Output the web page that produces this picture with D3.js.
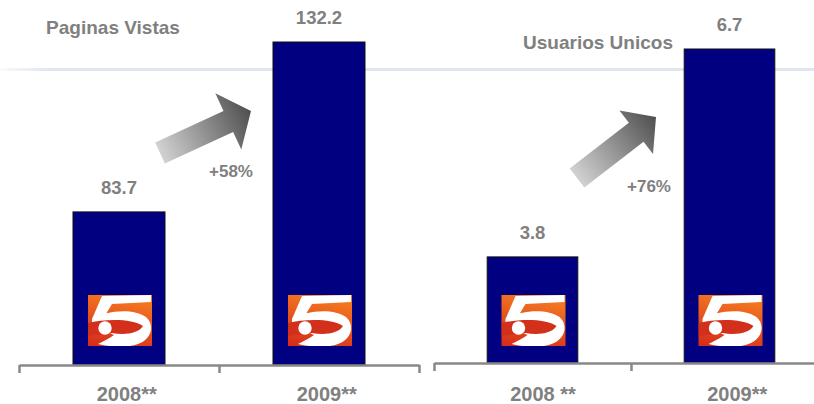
<!DOCTYPE html>
<html>
<head>
<meta charset="utf-8">
<script src="https://cdn.jsdelivr.net/npm/d3@7"></script>
<style>
	body { margin: 0; background: #fff; }
	text { font-family: "Liberation Sans", Arial, sans-serif; font-weight: bold; fill: #808080; }
</style>
</head>
<body>
<div id="container"></div>
<script>
const years = ["2008", "2009"];
const yearSuffixes = [["**", "**"], [" **", "**"]];
const panelTitles = ["Paginas Vistas", "Usuarios Unicos"];
const pageViews = [83.7, 132.2];
const uniqueUsers = [3.8, 6.7];
const growthLabels = ["+58%", "+76%"];

const width = 814;
const height = 404;

const svg = d3
	.select("#container")
	.append("svg")
	.attr("width", width)
	.attr("height", height);

const defs = svg.append("defs");

// faint blue rule behind the bars
const ruleGrad = defs.append("linearGradient").attr("id", "ruleGrad");
ruleGrad.append("stop").attr("offset", "0").attr("stop-color", "#dfe6f0").attr("stop-opacity", 0.2);
ruleGrad.append("stop").attr("offset", "0.06").attr("stop-color", "#dfe6f0").attr("stop-opacity", 1);
ruleGrad.append("stop").attr("offset", "1").attr("stop-color", "#dfe6f0").attr("stop-opacity", 1);
svg.append("rect")
	.attr("x", 0)
	.attr("y", 68)
	.attr("width", width)
	.attr("height", 3)
	.attr("fill", "url(#ruleGrad)");

const logoGrad = defs.append("linearGradient").attr("id", "logoGrad")
	.attr("x1", 0.3).attr("y1", 0).attr("x2", 0).attr("y2", 1);
logoGrad.append("stop").attr("offset", "0").attr("stop-color", "#f37520");
logoGrad.append("stop").attr("offset", "1").attr("stop-color", "#d52a1b");

defs.append("clipPath").attr("id", "logoClip")
	.append("rect").attr("width", 64).attr("height", 51);

const panels = [
	{
		values: pageViews,
		x0: 19, x1: 419, axisY: 365, yMin: 40, top: 42,
		title: panelTitles[0], titleX: 113, titleY: 34,
		arrow: { tail: [160, 153], tip: [251, 111], sw: 23, hw: 62, hl: 25 },
		growth: growthLabels[0], growthX: 231, growthY: 177,
		suffixes: yearSuffixes[0],
	},
	{
		values: uniqueUsers,
		x0: 434, x1: 828, axisY: 363, yMin: 2.32, top: 49,
		title: panelTitles[1], titleX: 598, titleY: 49,
		arrow: { tail: [577, 178], tip: [656, 117], sw: 24, hw: 55, hl: 25 },
		growth: growthLabels[1], growthX: 649, growthY: 192,
		suffixes: yearSuffixes[1],
	},
];

panels.forEach((p, pi) => drawPanel(p, pi));

function drawPanel(p, pi) {
	const g = svg.append("g");

	const x = d3.scaleBand()
		.domain(years)
		.range([p.x0, p.x1])
		.paddingInner(0.54)
		.paddingOuter(0.27);

	const y = d3.scaleLinear()
		.domain([p.yMin, d3.max(p.values)])
		.range([p.axisY, p.top]);

	drawArrow(g, p.arrow, pi);

	g.append("g")
		.selectAll("rect")
		.data(p.values)
		.join("rect")
		.attr("x", (d, i) => x(years[i]))
		.attr("y", (d) => y(d))
		.attr("width", x.bandwidth())
		.attr("height", (d) => p.axisY - y(d))
		.attr("fill", "#000080")
		.attr("stroke", "#111")
		.attr("stroke-width", 1);

	years.forEach((yr) => {
		drawLogo(g, x(yr) + x.bandwidth() / 2 - 31, 295, 64, 51);
	});

	// value labels
	g.append("g")
		.selectAll("text")
		.data(p.values)
		.join("text")
		.attr("x", (d, i) => x(years[i]) + x.bandwidth() / 2)
		.attr("y", (d) => y(d) - 18)
		.attr("text-anchor", "middle")
		.style("font-size", "18.5px")
		.text((d) => d.toFixed(1));

	g.append("text")
		.attr("x", p.titleX)
		.attr("y", p.titleY)
		.attr("text-anchor", "middle")
		.style("font-size", "19px")
		.text(p.title);

	g.append("text")
		.attr("x", p.growthX)
		.attr("y", p.growthY)
		.attr("text-anchor", "middle")
		.style("font-size", "17px")
		.text(p.growth);

	// axis with ticks at band boundaries
	const edge = d3.scaleLinear().domain([0, years.length]).range([p.x0, p.x1]);
	const axis = d3.axisBottom(edge)
		.tickValues(d3.range(years.length + 1))
		.tickFormat("")
		.tickSizeInner(8)
		.tickSizeOuter(0);
	const ax = g.append("g")
		.attr("transform", `translate(0, ${p.axisY})`)
		.call(axis);
	ax.select(".domain").attr("stroke", "#888").attr("stroke-width", 2.5);
	ax.selectAll(".tick line").attr("stroke", "#888").attr("stroke-width", 2.5);

	// category labels: year centred on the bar, stars appended
	years.forEach((yr, i) => {
		const cx = x(yr) + x.bandwidth() / 2;
		const t = g.append("text")
			.attr("x", cx)
			.attr("y", 401)
			.attr("text-anchor", "middle")
			.style("font-size", "20px")
			.text(yr);
		const w = t.node().getComputedTextLength();
		g.append("text")
			.attr("x", cx + w / 2)
			.attr("y", 401)
			.attr("xml:space", "preserve")
			.style("white-space", "pre")
			.style("font-size", "20px")
			.text(p.suffixes[i]);
	});
}

function drawArrow(g, a, idx) {
	const dx = a.tip[0] - a.tail[0];
	const dy = a.tip[1] - a.tail[1];
	const len = Math.hypot(dx, dy);
	const ang = (Math.atan2(dy, dx) * 180) / Math.PI;

	const gradId = "arrowGrad" + idx;
	const grad = defs.append("linearGradient")
		.attr("id", gradId)
		.attr("gradientUnits", "userSpaceOnUse")
		.attr("x1", 0).attr("y1", 0).attr("x2", len).attr("y2", 0);
	grad.append("stop").attr("offset", "0").attr("stop-color", "#d2d2d2");
	grad.append("stop").attr("offset", "1").attr("stop-color", "#4f4f4f");

	const b = len - a.hl;
	const pts = [
		[0, -a.sw / 2], [b, -a.sw / 2], [b, -a.hw / 2], [len, 0],
		[b, a.hw / 2], [b, a.sw / 2], [0, a.sw / 2],
	];
	g.append("path")
		.attr("d", d3.line()(pts) + "Z")
		.attr("transform", `translate(${a.tail[0]}, ${a.tail[1]}) rotate(${ang})`)
		.attr("fill", `url(#${gradId})`);
}

// channel logo: white "5" on an orange-red tile (64 x 51 units)
function drawLogo(g, lx, ly, w, h) {
	const lg = g.append("g")
		.attr("transform", `translate(${lx}, ${ly}) scale(${w / 64}, ${h / 51})`);
	lg.append("rect").attr("width", 64).attr("height", 51).attr("fill", "url(#logoGrad)");
	const inner = lg.append("g").attr("clip-path", "url(#logoClip)");
	// top bar and stem
	inner.append("path")
		.attr("d", "M14,1 L63,0 L63,7 L24,9 L15,24 L4,24 Z")
		.attr("fill", "#fff");
	// bowl
	inner.append("path")
		.attr("d", "M4,24 C18,15 46,13 58,22 C67,30 64,44 50,49 C40,53 22,52 10,49 C16,46 22,43 26,40 L4,30 Z")
		.attr("fill", "#fff");
	// inner opening of the bowl
	inner.append("path")
		.attr("d", "M0,28 C16,24 44,23 55,31 C50,39 36,40 24,38 L0,41 Z")
		.attr("fill", "#d3301c");
	inner.append("circle")
		.attr("cx", 17).attr("cy", 33).attr("r", 6.7)
		.attr("fill", "#fff");
}
</script>
</body>
</html>
